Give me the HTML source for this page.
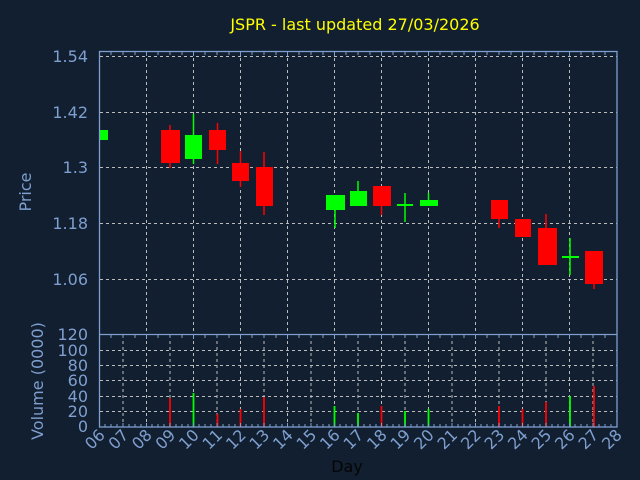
<!DOCTYPE html>
<html><head><meta charset="utf-8"><style>
html,body{margin:0;padding:0;background:#111f30;}
svg{display:block;font-family:"DejaVu Sans","Liberation Sans",sans-serif;}
</style></head><body>
<svg width="640" height="480" viewBox="0 0 640 480" xmlns="http://www.w3.org/2000/svg">
<rect width="640" height="480" fill="#111f30"/>
<text x="355" y="30" fill="#ffff00" font-size="16" text-anchor="middle">JSPR - last updated 27/03/2026</text>
<g stroke="#bcbcbc" stroke-width="1" stroke-dasharray="3,3" fill="none">
<path d="M100 56.5H617M100 112.5H617M100 167.5H617M100 223.5H617M100 279.5H617"/>
<path d="M146.5 52V334M193.5 52V334M240.5 52V334M287.5 52V334M334.5 52V334M381.5 52V334M428.5 52V334M475.5 52V334M522.5 52V334M569.5 52V334"/>
<path d="M100 350.5H617M100 365.5H617M100 380.5H617M100 396.5H617M100 411.5H617"/>
<path d="M123 335V427M146.5 335V427M170 335V427M193.5 335V427M217 335V427M240.5 335V427M264 335V427M287.5 335V427M311 335V427M334.5 335V427M358 335V427M381.5 335V427M405 335V427M428.5 335V427M452 335V427M475.5 335V427M499 335V427M522.5 335V427M546 335V427M569.5 335V427M593 335V427"/>
</g>
<g stroke="#ff0000" stroke-width="1.5">
<path d="M170 125V168M217.5 123V164M240.5 151V187M264 152V215M381.5 186V215M499 200V228M522.5 219V237M546 214V265M594 251V289"/>
</g>
<g stroke="#00ff00" stroke-width="1.5">
<path d="M193.5 114V164M335 195V228M358 181V206M405 193V222M428.5 193V206M570 238V275"/>
</g>
<g fill="#ff0000">
<rect x="161" y="130" width="19" height="33"/>
<rect x="209" y="130" width="17" height="20"/>
<rect x="232" y="163" width="17" height="18"/>
<rect x="256" y="167" width="17" height="39"/>
<rect x="373" y="186" width="18" height="20"/>
<rect x="491" y="200" width="17" height="19"/>
<rect x="515" y="219" width="16" height="18"/>
<rect x="538" y="228" width="19" height="37"/>
<rect x="585" y="251" width="18" height="33"/>
</g>
<g fill="#00ff00">
<rect x="100" y="130" width="8" height="10"/>
<rect x="185" y="135" width="17" height="24"/>
<rect x="326" y="195" width="19" height="15"/>
<rect x="350" y="191" width="17" height="15"/>
<rect x="397" y="204" width="16" height="2"/>
<rect x="420" y="200" width="18" height="6"/>
<rect x="562" y="256" width="17" height="2"/>
</g>
<g stroke-width="1.8">
<path stroke="#ff0000" d="M170 427V398M217.5 427V414M240.5 427V409M264 427V397M381.5 427V406M499 427V406M522.5 427V409M546 427V402M594 427V386"/>
<path stroke="#00ff00" d="M193.5 427V393M334.5 427V406M358 427V413M405 427V411M428.5 427V409M570 427V396"/>
</g>
<g stroke="#7f9fcf" stroke-width="1.3" fill="none">
<rect x="99.5" y="51.5" width="517.5" height="375.5"/>
<path d="M99.5 334.5H617"/>
</g>
<g stroke="#7f9fcf" stroke-width="1">
<path d="M111 52v3M123 52v3M135 52v3M146.5 52v4M158 52v3M170 52v3M182 52v3M193.5 52v4M205 52v3M217 52v3M229 52v3M240.5 52v4M252 52v3M264 52v3M276 52v3M287.5 52v4M299 52v3M311 52v3M323 52v3M334.5 52v4M346 52v3M358 52v3M370 52v3M381.5 52v4M393 52v3M405 52v3M417 52v3M428.5 52v4M440 52v3M452 52v3M464 52v3M475.5 52v4M487 52v3M499 52v3M511 52v3M522.5 52v4M534 52v3M546 52v3M558 52v3M569.5 52v4M581 52v3M593 52v3M605 52v3"/>
<path d="M111 335v3M123 335v3M135 335v3M146.5 335v4M158 335v3M170 335v3M182 335v3M193.5 335v4M205 335v3M217 335v3M229 335v3M240.5 335v4M252 335v3M264 335v3M276 335v3M287.5 335v4M299 335v3M311 335v3M323 335v3M334.5 335v4M346 335v3M358 335v3M370 335v3M381.5 335v4M393 335v3M405 335v3M417 335v3M428.5 335v4M440 335v3M452 335v3M464 335v3M475.5 335v4M487 335v3M499 335v3M511 335v3M522.5 335v4M534 335v3M546 335v3M558 335v3M569.5 335v4M581 335v3M593 335v3M605 335v3"/>
<path d="M105 427v-3M111 427v-3M117 427v-3M123 427v-4M129 427v-3M135 427v-3M141 427v-3M146.5 427v-4M152 427v-3M158 427v-3M164 427v-3M170 427v-4M176 427v-3M182 427v-3M188 427v-3M193.5 427v-4M199 427v-3M205 427v-3M211 427v-3M217 427v-4M223 427v-3M229 427v-3M235 427v-3M240.5 427v-4M246 427v-3M252 427v-3M258 427v-3M264 427v-4M270 427v-3M276 427v-3M282 427v-3M287.5 427v-4M293 427v-3M299 427v-3M305 427v-3M311 427v-4M317 427v-3M323 427v-3M329 427v-3M334.5 427v-4M340 427v-3M346 427v-3M352 427v-3M358 427v-4M364 427v-3M370 427v-3M376 427v-3M381.5 427v-4M387 427v-3M393 427v-3M399 427v-3M405 427v-4M411 427v-3M417 427v-3M423 427v-3M428.5 427v-4M434 427v-3M440 427v-3M446 427v-3M452 427v-4M458 427v-3M464 427v-3M470 427v-3M475.5 427v-4M481 427v-3M487 427v-3M493 427v-3M499 427v-4M505 427v-3M511 427v-3M517 427v-3M522.5 427v-4M528 427v-3M534 427v-3M540 427v-3M546 427v-4M552 427v-3M558 427v-3M564 427v-3M569.5 427v-4M575 427v-3M581 427v-3M587 427v-3M593 427v-4M599 427v-3M605 427v-3M611 427v-3"/>
</g>
<g fill="#7f9fcf" font-size="16" text-anchor="end">
<text x="88" y="62">1.54</text>
<text x="88" y="118">1.42</text>
<text x="88" y="173">1.3</text>
<text x="88" y="229">1.18</text>
<text x="88" y="285">1.06</text>
<text x="88" y="340">120</text>
<text x="88" y="356">100</text>
<text x="88" y="371">80</text>
<text x="88" y="386">60</text>
<text x="88" y="402">40</text>
<text x="88" y="417">20</text>
<text x="88" y="432">0</text>
</g>
<text transform="translate(31,192) rotate(-90)" fill="#7f9fcf" font-size="16" text-anchor="middle">Price</text>
<text transform="translate(43,381) rotate(-90)" fill="#7f9fcf" font-size="16" text-anchor="middle">Volume (0000)</text>
<g fill="#7f9fcf" font-size="16" text-anchor="end">
<text transform="translate(106,436) rotate(-45)">06</text>
<text transform="translate(129.5,436) rotate(-45)">07</text>
<text transform="translate(153,436) rotate(-45)">08</text>
<text transform="translate(176.5,436) rotate(-45)">09</text>
<text transform="translate(200,436) rotate(-45)">10</text>
<text transform="translate(223.5,436) rotate(-45)">11</text>
<text transform="translate(247,436) rotate(-45)">12</text>
<text transform="translate(270.5,436) rotate(-45)">13</text>
<text transform="translate(294,436) rotate(-45)">14</text>
<text transform="translate(317.5,436) rotate(-45)">15</text>
<text transform="translate(341,436) rotate(-45)">16</text>
<text transform="translate(364.5,436) rotate(-45)">17</text>
<text transform="translate(388,436) rotate(-45)">18</text>
<text transform="translate(411.5,436) rotate(-45)">19</text>
<text transform="translate(435,436) rotate(-45)">20</text>
<text transform="translate(458.5,436) rotate(-45)">21</text>
<text transform="translate(482,436) rotate(-45)">22</text>
<text transform="translate(505.5,436) rotate(-45)">23</text>
<text transform="translate(529,436) rotate(-45)">24</text>
<text transform="translate(552.5,436) rotate(-45)">25</text>
<text transform="translate(576,436) rotate(-45)">26</text>
<text transform="translate(599.5,436) rotate(-45)">27</text>
<text transform="translate(623,436) rotate(-45)">28</text>
</g>
<text x="347" y="472" fill="#050505" font-size="16" text-anchor="middle">Day</text>
</svg>
</body></html>
